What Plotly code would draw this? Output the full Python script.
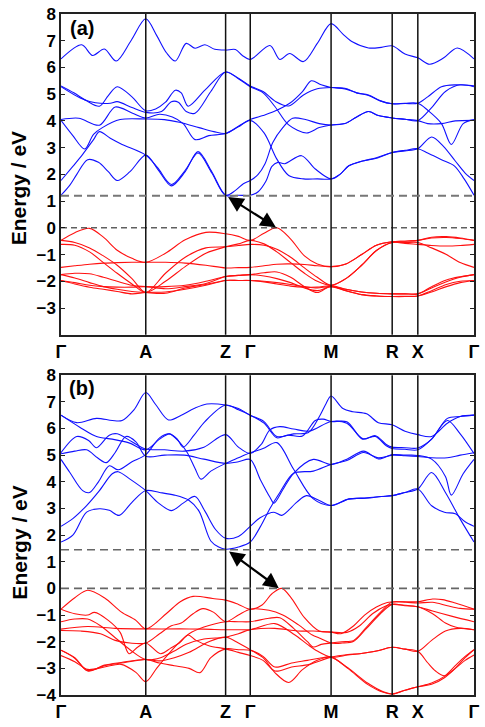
import plotly.graph_objects as go

# ---------------- axes / labels ----------------
K_SYM = [0, 86, 167, 192, 274, 336, 362, 419]
K_LABELS = ["Γ", "A", "Z", "Γ", "M", "R", "X", "Γ"]
Y_TICKS_A = list(range(-3, 9))
Y_TICKS_B = list(range(-4, 9))
GAP_A = 1.2
GAP_B = 1.45
ARROW_A = [(168, 1.19), (218, 0.02)]
ARROW_B = [(169, 1.43), (221, 0.01)]

# ---------------- panel (a): conduction bands (k, E) knots ----------------
a_c1 = [(0,6.32),(21,6.85),(32,6.45),(44,6.69),(56,6.24),(71,7.0),(86,7.82),(97,7.2),(107,6.55),(116,6.24),(127,6.9),(136,6.72),(146,6.85),(156,6.68),(167,6.65),(177,6.67),(184,6.45),(192,6.3),(212,6.82),(222,6.3),(232,6.52),(246,6.22),(260,6.9),(274,7.64),(286,7.25),(296,6.95),(312,6.73),(325,6.75),(336,6.81),(349,6.5),(362,6.36),(374,6.12),(388,6.35),(402,6.73),(419,6.32)]
a_c2 = [(0,5.31),(13,5.05),(26,4.75),(39,4.55),(48,4.95),(57,5.28),(72,4.9),(86,4.38),(96,4.45),(106,4.7),(116,5.15),(122,5.05),(129,4.55),(146,5.15),(167,5.83),(180,5.6),(192,5.31),(205,5.1),(218,4.72),(231,4.56),(246,4.97),(260,5.2),(274,5.25),(288,5.22),(300,5.05),(312,4.97),(324,4.75),(336,4.64),(349,4.65),(362,4.66),(372,4.9),(386,5.28),(400,5.35),(419,5.31)]
a_c3 = [(0,5.28),(20,4.85),(35,4.68),(50,4.66),(57,4.72),(72,4.5),(86,4.32),(102,4.35),(112,4.72),(119,4.7),(127,4.35),(136,4.29),(152,5.1),(167,5.83),(180,5.58),(192,5.28),(205,5.05),(217,4.54),(231,3.85),(249,3.55),(262,3.75),(274,3.85),(288,3.9),(300,4.15),(312,4.35),(322,4.2),(336,4.11),(349,4.06),(362,4.01),(376,4.5),(390,5.1),(405,5.35),(419,5.28)]
a_c4 = [(0,4.05),(18,4.1),(39,3.84),(55,4.52),(72,4.3),(86,4.11),(100,4.25),(113,4.15),(124,3.9),(136,3.3),(150,3.45),(167,3.53),(180,3.8),(192,4.05),(205,4.2),(216,4.35),(232,4.66),(245,5.1),(254,5.5),(264,5.35),(274,5.25),(288,5.2),(300,5.05),(312,4.95),(324,4.75),(336,4.64),(349,4.66),(362,4.66),(372,4.4),(386,3.9),(396,3.12),(408,3.9),(419,4.05)]
a_c5 = [(0,4.02),(12,3.45),(24,2.95),(33,3.5),(42,3.75),(60,4.05),(86,4.07),(105,4.05),(120,3.95),(140,3.75),(155,3.6),(167,3.53),(180,3.78),(192,4.02),(206,3.55),(219,2.57),(231,1.96),(246,1.83),(260,1.83),(274,1.83),(283,2.0),(292,2.32),(306,2.5),(320,2.6),(336,2.82),(349,2.88),(362,2.96),(376,3.4),(388,3.05),(400,2.5),(410,2.05),(419,1.77)]
a_c6 = [(0,1.22),(9,1.6),(16,2.0),(27,2.55),(38,2.45),(48,2.1),(57,1.77),(70,2.1),(86,2.72),(98,2.2),(112,1.57),(126,2.1),(139,2.85),(153,2.1),(167,1.22),(180,1.22),(192,1.22),(200,1.35),(208,1.75),(214,2.3),(220,2.45),(227,2.4),(244,2.7),(258,2.2),(274,1.83),(283,2.0),(292,2.32),(306,2.5),(320,2.62),(336,2.82),(349,2.9),(362,2.96),(372,2.8),(386,2.55),(399,2.32),(409,1.83),(419,1.22)]
a_c7 = [(0,1.77),(12,2.3),(22,2.75),(33,3.3),(39,3.6),(50,3.35),(62,3.12),(86,2.72),(98,2.25),(112,1.62),(126,2.15),(139,2.8),(153,2.05),(167,1.22),(177,1.4),(185,1.65),(192,1.77),(200,2.0),(207,2.4),(215,3.2),(225,3.75),(235,4.1),(248,4.05),(262,3.9),(274,3.85),(288,3.9),(300,4.15),(312,4.35),(322,4.2),(336,4.11),(349,4.06),(362,4.01),(372,3.9),(386,3.9),(400,4.0),(419,4.02)]

# ---------------- panel (a): valence bands on a common k grid ----------------
A_VB_K = [0,14,29,43,57,72,86,106,126,147,167,180,192,206,219,233,247,260,274,289,305,320,336,349,362,376,391,405,419]
a_v1 = [-0.47,-0.18,-0.02,-0.35,-0.84,-1.14,-1.29,-0.95,-0.45,-0.17,-0.22,-0.32,-0.47,-0.2,0.0,-0.42,-1.05,-1.35,-1.45,-1.35,-1.0,-0.65,-0.52,-0.5,-0.47,-0.35,-0.33,-0.38,-0.47]
a_v2 = [-0.47,-0.55,-0.75,-1.05,-1.4,-1.9,-2.42,-1.7,-1.1,-0.75,-0.71,-0.66,-0.62,-0.65,-0.8,-1.1,-1.5,-1.85,-2.15,-1.9,-1.4,-0.85,-0.55,-0.58,-0.62,-0.66,-0.68,-0.66,-0.62]
a_v3 = [-0.62,-0.65,-0.9,-1.3,-1.7,-2.1,-2.42,-2.0,-1.45,-0.95,-0.71,-0.6,-0.47,-0.6,-0.9,-1.3,-1.7,-2.0,-2.15,-1.9,-1.4,-0.85,-0.55,-0.55,-0.55,-0.75,-1.0,-1.3,-1.48]
a_v4 = [-1.48,-1.42,-1.36,-1.32,-1.3,-1.29,-1.29,-1.29,-1.32,-1.4,-1.5,-1.49,-1.48,-1.42,-1.36,-1.35,-1.37,-1.42,-1.45,-1.35,-1.0,-0.65,-0.52,-0.5,-0.47,-0.38,-0.36,-0.4,-0.47]
a_v5 = [-1.75,-1.7,-1.72,-1.85,-2.0,-2.15,-2.2,-2.2,-2.15,-2.0,-1.82,-1.78,-1.75,-1.68,-1.65,-1.85,-2.2,-2.42,-2.17,-2.3,-2.4,-2.45,-2.47,-2.47,-2.47,-2.2,-1.95,-1.83,-1.75]
a_v6 = [-1.75,-1.88,-2.05,-2.2,-2.3,-2.38,-2.42,-2.45,-2.25,-2.12,-1.97,-1.97,-1.97,-2.0,-2.05,-2.12,-2.2,-2.25,-2.2,-2.35,-2.5,-2.55,-2.57,-2.57,-2.55,-2.35,-2.12,-2.0,-1.97]
a_v7 = [-1.97,-2.05,-2.15,-2.2,-2.22,-2.22,-2.2,-2.28,-2.2,-2.08,-1.82,-1.78,-1.75,-1.8,-1.9,-2.05,-2.25,-2.35,-2.2,-2.3,-2.4,-2.45,-2.47,-2.47,-2.47,-2.25,-2.02,-1.85,-1.75]
a_v8 = [-1.97,-2.1,-2.22,-2.3,-2.38,-2.47,-2.42,-2.4,-2.3,-2.15,-1.97,-1.97,-1.97,-2.02,-2.1,-2.18,-2.22,-2.22,-2.17,-2.35,-2.5,-2.55,-2.57,-2.56,-2.55,-2.4,-2.2,-2.05,-1.97]

# ---------------- panel (b): conduction bands (k, E) knots ----------------
b_c1 = [(0,6.5),(16,6.22),(36,6.38),(52,6.3),(62,6.3),(74,6.7),(86,7.35),(96,6.9),(109,6.32),(122,6.5),(135,6.75),(148,6.92),(167,6.88),(180,6.75),(192,6.5),(206,6.26),(219,5.7),(236,5.8),(251,5.85),(262,6.44),(269,6.94),(274,7.22),(286,6.75),(296,6.63),(310,6.55),(322,6.22),(336,6.14),(349,5.9),(362,5.77),(376,5.7),(392,6.2),(405,6.45),(419,6.5)]
b_c2 = [(0,6.5),(19,6.05),(36,5.7),(52,5.6),(69,5.46),(86,5.2),(100,5.6),(110,5.8),(118,5.6),(124,5.3),(135,5.75),(146,6.26),(167,6.88),(180,6.7),(192,6.5),(206,6.2),(219,5.65),(230,5.75),(245,5.72),(258,6.3),(266,6.35),(274,6.26),(290,6.25),(306,5.6),(319,5.73),(330,5.4),(336,5.3),(349,5.28),(362,5.27),(376,5.6),(392,6.38),(405,6.45),(419,6.5)]
b_c3 = [(0,5.09),(16,5.7),(28,5.55),(36,5.28),(49,5.75),(57,5.8),(72,5.5),(86,5.23),(105,5.2),(125,5.15),(145,5.3),(167,5.77),(180,5.3),(192,5.06),(203,5.4),(212,5.95),(222,6.07),(236,5.98),(252,5.9),(274,6.26),(290,6.2),(306,5.62),(319,5.7),(330,5.35),(336,5.25),(349,5.22),(362,5.2),(376,5.6),(392,6.3),(405,5.8),(419,5.06)]
b_c4 = [(0,5.05),(14,5.15),(26,5.2),(37,4.9),(46,4.72),(55,5.1),(66,5.7),(76,5.5),(86,4.96),(105,5.0),(125,5.0),(145,4.85),(167,4.69),(180,4.75),(192,4.84),(202,4.1),(212,3.42),(216,3.2),(225,3.7),(236,4.32),(256,4.84),(274,4.65),(290,4.85),(307,5.15),(322,4.86),(336,5.02),(349,5.0),(362,4.99),(376,4.85),(390,4.2),(396,3.5),(408,4.3),(419,4.84)]
b_c5 = [(0,4.84),(9,4.35),(22,3.67),(29,3.6),(38,4.0),(49,4.6),(58,4.45),(72,4.75),(86,5.02),(100,5.65),(110,5.8),(120,5.5),(128,5.1),(136,4.5),(142,4.1),(152,4.4),(167,4.69),(180,4.9),(192,5.09),(205,5.25),(219,5.47),(236,4.47),(256,3.36),(274,3.11),(292,3.36),(310,3.38),(325,3.45),(336,3.48),(349,3.6),(362,3.73),(376,4.35),(390,3.6),(405,2.6),(419,1.74)]
b_c6 = [(0,2.33),(12,2.62),(26,3.11),(39,3.67),(52,4.3),(58,4.38),(70,4.1),(86,3.67),(99,3.2),(112,2.92),(124,3.2),(136,3.45),(146,2.9),(157,2.2),(167,1.88),(180,1.95),(192,2.33),(202,2.65),(216,2.86),(224,2.74),(239,3.23),(249,3.48),(262,3.3),(274,3.11),(292,3.35),(310,3.4),(325,3.45),(336,3.48),(349,3.6),(362,3.73),(376,3.1),(389,2.86),(400,2.8),(410,2.5),(419,2.33)]
b_c7 = [(0,1.74),(12,2.0),(26,2.86),(39,2.99),(49,2.93),(59,2.74),(72,3.23),(86,3.67),(100,3.6),(115,3.5),(130,3.3),(140,2.9),(152,1.78),(160,1.55),(167,1.47),(180,1.55),(192,1.74),(202,2.3),(212,3.0),(222,3.6),(236,4.32),(256,4.4),(274,4.65),(290,4.8),(307,5.1),(322,4.9),(336,5.0),(349,4.98),(362,4.95),(376,4.9),(392,4.9),(405,5.0),(419,5.09)]

# ---------------- panel (b): valence bands (k, E) knots ----------------
b_v1 = [(0,-0.78),(14,-0.35),(27,-0.07),(44,-0.35),(61,-0.88),(76,-1.2),(86,-1.52),(107,-0.94),(121,-0.5),(134,-0.3),(154,-0.38),(167,-0.44),(180,-0.6),(192,-0.78),(204,-0.62),(214,-0.2),(224,0.0),(234,-0.38),(247,-1.1),(262,-1.6),(274,-1.64),(284,-1.7),(297,-1.4),(308,-1.0),(320,-0.7),(331,-0.53),(336,-0.51),(350,-0.5),(362,-0.5),(377,-0.4),(387,-0.42),(400,-0.55),(419,-0.78)]
b_v2 = [(0,-0.78),(14,-0.95),(27,-1.0),(34,-0.9),(48,-1.2),(60,-1.65),(69,-2.45),(78,-2.2),(86,-2.05),(101,-2.45),(111,-2.25),(120,-2.05),(129,-1.75),(137,-1.95),(150,-2.15),(167,-2.27),(180,-2.4),(192,-2.52),(205,-2.7),(217,-3.1),(234,-2.95),(252,-2.85),(274,-2.58),(291,-2.48),(303,-2.45),(320,-2.35),(336,-2.21),(349,-2.28),(362,-2.36),(372,-2.79),(380,-3.1),(389,-3.28),(400,-3.0),(410,-2.7),(419,-2.5)]
b_v3 = [(0,-1.25),(14,-1.15),(27,-1.15),(40,-1.4),(55,-1.85),(70,-2.3),(86,-2.67),(101,-2.6),(115,-2.35),(127,-2.1),(145,-1.9),(167,-1.83),(180,-1.7),(192,-1.55),(217,-1.5),(240,-1.6),(256,-1.6),(274,-1.64),(290,-1.65),(303,-1.4),(316,-0.95),(330,-0.65),(336,-0.6),(349,-0.63),(362,-0.69),(377,-0.85),(397,-1.05),(419,-1.25)]
b_v4 = [(0,-1.53),(27,-1.43),(55,-1.5),(86,-1.52),(120,-1.52),(145,-1.53),(167,-1.55),(180,-1.55),(192,-1.55),(217,-1.32),(237,-1.74),(250,-2.1),(260,-2.35),(274,-2.58),(291,-2.5),(303,-2.45),(320,-2.35),(336,-2.21),(349,-2.28),(362,-2.36),(376,-1.95),(390,-1.6),(405,-1.5),(419,-1.55)]
b_v5 = [(0,-1.58),(20,-1.6),(40,-1.7),(55,-1.95),(70,-2.05),(86,-2.05),(100,-1.7),(112,-1.4),(122,-1.3),(134,-0.95),(144,-0.76),(155,-0.9),(167,-1.25),(180,-1.0),(192,-0.78),(211,-0.82),(225,-1.0),(241,-1.37),(255,-1.75),(262,-1.86),(274,-2.05),(285,-2.05),(297,-1.98),(310,-1.5),(324,-0.95),(336,-0.6),(349,-0.65),(362,-0.69),(377,-0.95),(390,-1.3),(400,-1.45),(419,-1.55)]
b_v6 = [(0,-2.32),(14,-2.6),(27,-3.1),(44,-2.88),(61,-2.78),(86,-2.67),(100,-2.8),(115,-2.9),(130,-3.0),(141,-3.16),(152,-2.6),(167,-2.27),(180,-2.3),(192,-2.32),(205,-2.55),(217,-2.95),(234,-2.8),(250,-2.7),(262,-2.62),(274,-2.58),(291,-2.98),(311,-3.55),(327,-3.88),(336,-3.96),(349,-3.82),(362,-3.69),(376,-3.55),(389,-3.3),(400,-2.9),(410,-2.55),(419,-2.3)]
b_v7 = [(0,-2.52),(14,-2.75),(27,-3.04),(44,-2.95),(61,-2.85),(76,-3.15),(86,-3.5),(97,-3.0),(107,-2.55),(118,-2.1),(130,-1.7),(145,-1.45),(167,-1.25),(180,-1.25),(192,-1.25),(211,-1.12),(222,-1.1),(236,-1.5),(250,-2.0),(256,-2.2),(264,-2.1),(274,-2.05),(285,-2.0),(297,-1.95),(310,-1.45),(324,-0.9),(336,-0.51),(350,-0.52),(362,-0.55),(377,-0.52),(392,-0.65),(405,-0.75),(419,-0.78)]
b_v8 = [(0,-2.32),(14,-2.62),(27,-3.08),(44,-2.9),(61,-2.8),(86,-2.67),(100,-2.72),(115,-2.6),(130,-2.4),(150,-2.0),(167,-1.83),(180,-2.05),(192,-2.3),(205,-2.6),(217,-3.16),(231,-3.53),(245,-3.05),(260,-2.7),(274,-2.58),(291,-3.0),(311,-3.6),(327,-3.9),(336,-3.96),(349,-3.82),(362,-3.69),(376,-3.6),(389,-3.35),(400,-3.0),(410,-2.6),(419,-2.3)]

A_COND = [a_c1, a_c2, a_c3, a_c4, a_c5, a_c6, a_c7]
A_VAL = [a_v1, a_v2, a_v3, a_v4, a_v5, a_v6, a_v7, a_v8]
B_COND = [b_c1, b_c2, b_c3, b_c4, b_c5, b_c6, b_c7]
B_VAL = [b_v1, b_v2, b_v3, b_v4, b_v5, b_v6, b_v7, b_v8]

BLUE = "#1010ff"
RED = "#ff1010"
FONT = "Liberation Sans"

fig = go.Figure()


def add_band(ks, es, color, xa, ya):
    fig.add_trace(go.Scatter(
        x=list(ks), y=list(es), mode="lines", xaxis=xa, yaxis=ya,
        line=dict(color=color, width=1.1, shape="spline", smoothing=0.9),
        hoverinfo="skip", showlegend=False))


for band in A_COND:
    ks, es = zip(*band)
    add_band(ks, es, BLUE, "x", "y")
for es in A_VAL:
    add_band(A_VB_K, es, RED, "x", "y")
for band in B_COND:
    ks, es = zip(*band)
    add_band(ks, es, BLUE, "x2", "y2")
for band in B_VAL:
    ks, es = zip(*band)
    add_band(ks, es, RED, "x2", "y2")

shapes = []
for xr, yr in (("x", "y"), ("x2", "y2")):
    for k in K_SYM[1:-1]:
        shapes.append(dict(type="line", xref=xr, yref=yr + " domain", x0=k, x1=k,
                           y0=0, y1=1, line=dict(color="#111111", width=1.5), layer="above"))

# dashed reference lines
shapes.append(dict(type="line", xref="x", yref="y", x0=K_SYM[0], x1=K_SYM[-1], y0=0, y1=0,
                   line=dict(color="#111111", width=1, dash="6px,4px")))
shapes.append(dict(type="line", xref="x", yref="y", x0=K_SYM[0], x1=K_SYM[-1], y0=GAP_A, y1=GAP_A,
                   line=dict(color="#777777", width=2, dash="8px,5px")))
shapes.append(dict(type="line", xref="x2", yref="y2", x0=K_SYM[0], x1=K_SYM[-1], y0=0, y1=0,
                   line=dict(color="#666666", width=1.6, dash="8px,5px")))
shapes.append(dict(type="line", xref="x2", yref="y2", x0=K_SYM[0], x1=K_SYM[-1], y0=GAP_B, y1=GAP_B,
                   line=dict(color="#666666", width=1.6, dash="8px,5px")))

annotations = []
for xr, yr, arr in (("x", "y", ARROW_A), ("x2", "y2", ARROW_B)):
    (x0, y0), (x1, y1) = arr
    annotations.append(dict(x=x1, y=y1, ax=x0, ay=y0, xref=xr, yref=yr, axref=xr, ayref=yr,
                            text="", showarrow=True, arrowhead=2, startarrowhead=2,
                            arrowside="end+start", arrowwidth=2.2, arrowsize=1.4,
                            startarrowsize=1.4, arrowcolor="black"))

annotations.append(dict(text="<b>(a)</b>", x=0.05, y=0.98, xref="paper", yref="paper",
                        xanchor="center", yanchor="middle",
                        showarrow=False, font=dict(family=FONT, size=20, color="black")))
annotations.append(dict(text="<b>(b)</b>", x=0.05, y=0.451, xref="paper", yref="paper",
                        xanchor="center", yanchor="middle",
                        showarrow=False, font=dict(family=FONT, size=20, color="black")))
for yc in (0.7435, 0.2232):
    annotations.append(dict(text="<b>Energy / eV</b>", x=-0.1026, y=yc, xref="paper", yref="paper",
                            xanchor="center", yanchor="middle",
                            textangle=-90, showarrow=False,
                            font=dict(family=FONT, size=21, color="black")))

xcommon = dict(range=[K_SYM[0], K_SYM[-1]], tickvals=K_SYM, ticktext=K_LABELS, ticks="",
               showline=True, mirror=True, linecolor="#222222", linewidth=1.5,
               showgrid=False, zeroline=False,
               tickfont=dict(family=FONT, size=18, color="black", weight="bold"))
ycommon = dict(range=[-4, 8], ticks="inside", ticklen=4, tickcolor="#222222",
               showline=True, mirror="ticks", linecolor="#222222", linewidth=1.5,
               showgrid=False, zeroline=False,
               tickfont=dict(family=FONT, size=17, color="black", weight="bold"))

fig.update_layout(
    width=485, height=727,
    margin=dict(l=61, r=5, t=6, b=31),
    paper_bgcolor="white", plot_bgcolor="white",
    xaxis=dict(anchor="y", domain=[0, 1], **xcommon),
    xaxis2=dict(anchor="y2", domain=[0, 1], **xcommon),
    yaxis=dict(anchor="x", domain=[0.529, 1], tickvals=Y_TICKS_A, **ycommon),
    yaxis2=dict(anchor="x2", domain=[0, 0.4696], tickvals=Y_TICKS_B, **ycommon),
    shapes=shapes, annotations=annotations,
)

fig.write_html("out.html")
